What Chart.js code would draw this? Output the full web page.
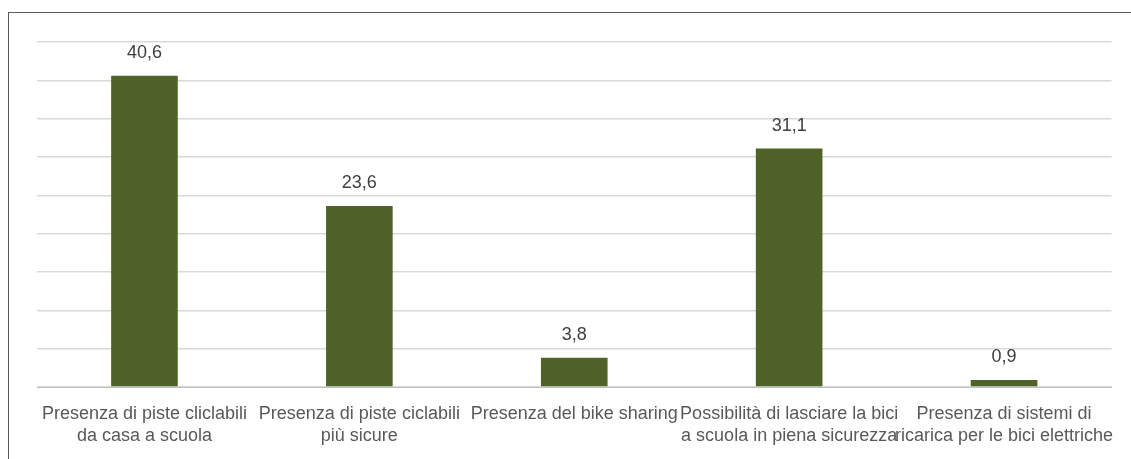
<!DOCTYPE html>
<html>
<head>
<meta charset="utf-8">
<script src="https://cdn.jsdelivr.net/npm/chart.js@4/dist/chart.umd.min.js"></script>
<style>
    html, body { margin: 0; padding: 0; background: #ffffff; overflow: hidden; }
    #frame {
        position: absolute; left: 8px; top: 12px;
        width: 1200px; height: 600px;
        border: 1px solid #595959;
    }
    #wrap { position: absolute; left: 0; top: 0; width: 1131px; height: 480px; }
</style>
</head>
<body>
<div id="frame"></div>
<div id="wrap"><canvas id="chart" width="1131" height="480"></canvas></div>
<script>
// ================================
// DATA
// ================================
const categories = [
    ["Presenza di piste cliclabili", "da casa a scuola"],
    ["Presenza di piste ciclabili", "più sicure"],
    ["Presenza del bike sharing"],
    ["Possibilità di lasciare la bici", "a scuola in piena sicurezza"],
    ["Presenza di sistemi di", "ricarica per le bici elettriche"]
];
const values = [40.6, 23.6, 3.8, 31.1, 0.9];
const yMax = 45;
const yStep = 5;

const FONT = "'Liberation Sans', Arial, sans-serif";

// draw value labels above each bar
const valueLabels = {
    id: "valueLabels",
    afterDatasetsDraw(chart) {
        const ctx = chart.ctx;
        const meta = chart.getDatasetMeta(0);
        ctx.save();
        ctx.font = "18px " + FONT;
        ctx.fillStyle = "#404040";
        ctx.textAlign = "center";
        ctx.textBaseline = "alphabetic";
        meta.data.forEach((bar, i) => {
            const txt = values[i].toFixed(1).replace(".", ",");
            ctx.fillText(txt, bar.x, bar.y - 18);
        });
        ctx.restore();
    }
};

new Chart(document.getElementById("chart").getContext("2d"), {
    type: "bar",
    data: {
        labels: categories,
        datasets: [{
            data: values,
            backgroundColor: "#4f6228",
            barPercentage: 0.62,
            categoryPercentage: 0.5
        }]
    },
    options: {
        responsive: false,
        animation: false,
        layout: { padding: { left: 37, right: 19, top: 42, bottom: 17 } },
        plugins: {
            legend: { display: false },
            tooltip: { enabled: false }
        },
        scales: {
            x: {
                grid: { display: false, drawTicks: false },
                border: { color: "#bfbfbf", width: 1 },
                ticks: {
                    color: "#595959",
                    font: { family: FONT, size: 18, lineHeight: "22px" },
                    padding: 16,
                    autoSkip: false,
                    maxRotation: 0,
                    minRotation: 0
                }
            },
            y: {
                min: 0,
                max: yMax,
                ticks: { display: false, stepSize: yStep },
                border: { display: false },
                grid: { color: "#d9d9d9", lineWidth: 1.5, drawTicks: false }
            }
        }
    },
    plugins: [valueLabels]
});
</script>
</body>
</html>
